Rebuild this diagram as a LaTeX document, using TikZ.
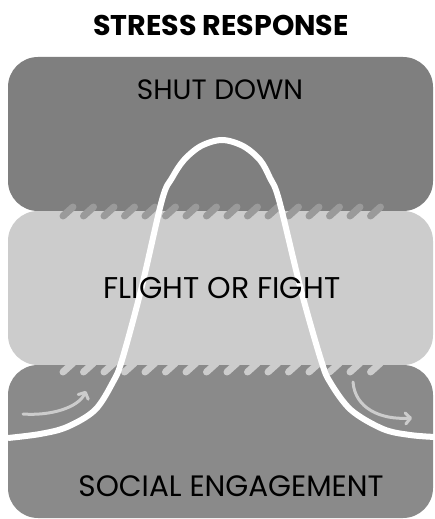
\documentclass[tikz,border=0pt]{standalone}
\usepackage{fontspec}
\setmainfont{Poppins}
\usetikzlibrary{arrows.meta}
\definecolor{upperband}{HTML}{7F7F7F}
\definecolor{middleband}{HTML}{CCCCCC}
\definecolor{lowerband}{HTML}{8A8A8A}
\definecolor{stitch}{HTML}{9A9A9A}

\begin{document}
\begin{tikzpicture}[x=1pt,y=-1pt,
    band/.style={rounded corners=30pt},
    bandtext/.style={font=\fontsize{28}{32}\selectfont},
    stitchline/.style={line width=7pt,line cap=round},
    drift/.style={middleband,line width=3pt,line cap=round,-{Straight Barb[length=5pt,width=11pt,round]}}]
    \useasboundingbox (0,0) rectangle (435,519);
    \fill[white] (0,0) rectangle (435,519);
    % the three bands
    \fill[upperband,band] (8,57) rectangle (433,211);
    \fill[middleband,band] (8,211) rectangle (433,365);
    \fill[lowerband,band] (8,365) rectangle (433,518);
    % stitches between the bands
    \foreach \i in {0,...,15} {
        \draw[stitch,stitchline] ({63+20.5*\i},216) -- ({73+20.5*\i},207);
        \draw[middleband,stitchline] ({63+20.5*\i},372) -- ({73+20.5*\i},363);
    }
    % response curve
    \draw[white,line width=6pt] plot[smooth,tension=0.55] coordinates {(8,438) (40,434) (67,427) (95,410) (113,382) (122,360) (141,290) (162,200) (172,178) (184,160) (201,146) (222,140) (243,146) (260,160) (270,178) (279,200) (301,290) (321,360) (330,382) (351,410) (383,429) (410,435) (435,437)};
    \draw[drift] (23,414) .. controls (50,416) and (78,408) .. (86,391);
    \draw[drift] (353,382) .. controls (355,408) and (380,420) .. (412,418);
    % labels
    \node[font=\bfseries\fontsize{28.5}{32}\selectfont] (title) at (221,25) {STRESS RESPONSE};
    \node[bandtext] (shutdown) at (220,90) {SHUT DOWN};
    \node[bandtext,font=\fontsize{30}{34}\selectfont] (flight) at (222,288) {FLIGHT OR FIGHT};
    \node[bandtext,font=\fontsize{29.5}{34}\selectfont] (social) at (231,486) {SOCIAL ENGAGEMENT};
\end{tikzpicture}
\end{document}
